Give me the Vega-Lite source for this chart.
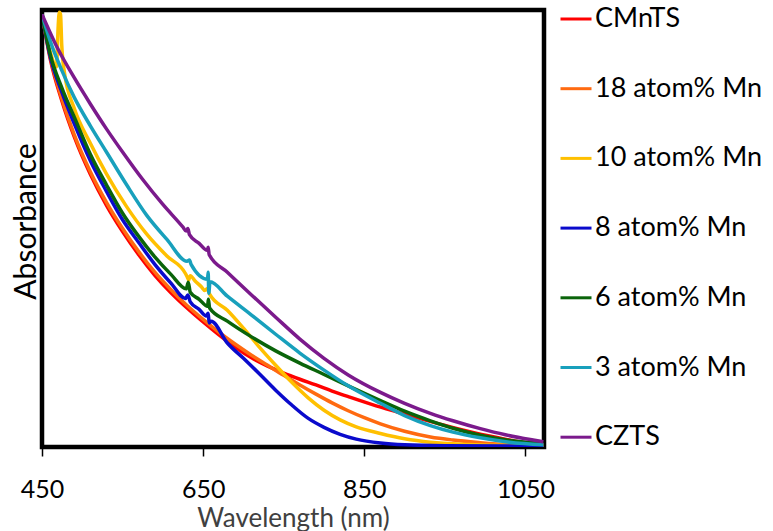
{
  "$schema": "https://vega.github.io/schema/vega-lite/v6.json",
  "width": 502,
  "height": 437,
  "autosize": {"type": "none"},
  "padding": {"left": 42, "top": 10, "right": 229, "bottom": 84},
  "background": "white",
  "config": {
    "view": {"stroke": "black", "strokeWidth": 4.5},
    "font": "Lato"
  },
  "data": {
    "values": [
      {"s":"CMnTS","w":450,"a":0.99},{"s":"CMnTS","w":460,"a":0.89},{"s":"CMnTS","w":475,"a":0.79},{"s":"CMnTS","w":490,"a":0.71},{"s":"CMnTS","w":510,"a":0.624},{"s":"CMnTS","w":530,"a":0.553},{"s":"CMnTS","w":550,"a":0.493},{"s":"CMnTS","w":570,"a":0.44},{"s":"CMnTS","w":590,"a":0.393},{"s":"CMnTS","w":610,"a":0.353},{"s":"CMnTS","w":630,"a":0.318},{"s":"CMnTS","w":650,"a":0.286},{"s":"CMnTS","w":670,"a":0.256},{"s":"CMnTS","w":690,"a":0.228},{"s":"CMnTS","w":710,"a":0.204},{"s":"CMnTS","w":730,"a":0.185},{"s":"CMnTS","w":750,"a":0.169},{"s":"CMnTS","w":770,"a":0.155},{"s":"CMnTS","w":790,"a":0.142},{"s":"CMnTS","w":810,"a":0.128},{"s":"CMnTS","w":832,"a":0.114},{"s":"CMnTS","w":860,"a":0.097},{"s":"CMnTS","w":891,"a":0.08},{"s":"CMnTS","w":925,"a":0.062},{"s":"CMnTS","w":957,"a":0.046},{"s":"CMnTS","w":990,"a":0.031},{"s":"CMnTS","w":1019,"a":0.02},{"s":"CMnTS","w":1045,"a":0.011},{"s":"CMnTS","w":1072.3,"a":0.005},

      {"s":"18 atom% Mn","w":450,"a":0.99},{"s":"18 atom% Mn","w":460,"a":0.895},{"s":"18 atom% Mn","w":475,"a":0.795},{"s":"18 atom% Mn","w":490,"a":0.715},{"s":"18 atom% Mn","w":510,"a":0.63},{"s":"18 atom% Mn","w":530,"a":0.56},{"s":"18 atom% Mn","w":550,"a":0.5},{"s":"18 atom% Mn","w":570,"a":0.447},{"s":"18 atom% Mn","w":590,"a":0.4},{"s":"18 atom% Mn","w":610,"a":0.36},{"s":"18 atom% Mn","w":630,"a":0.324},{"s":"18 atom% Mn","w":650,"a":0.292},{"s":"18 atom% Mn","w":670,"a":0.262},{"s":"18 atom% Mn","w":690,"a":0.235},{"s":"18 atom% Mn","w":710,"a":0.21},{"s":"18 atom% Mn","w":730,"a":0.187},{"s":"18 atom% Mn","w":750,"a":0.164},{"s":"18 atom% Mn","w":770,"a":0.142},{"s":"18 atom% Mn","w":790,"a":0.121},{"s":"18 atom% Mn","w":810,"a":0.101},{"s":"18 atom% Mn","w":830,"a":0.083},{"s":"18 atom% Mn","w":850,"a":0.067},{"s":"18 atom% Mn","w":870,"a":0.053},{"s":"18 atom% Mn","w":900,"a":0.036},{"s":"18 atom% Mn","w":932,"a":0.023},{"s":"18 atom% Mn","w":960,"a":0.016},{"s":"18 atom% Mn","w":994,"a":0.01},{"s":"18 atom% Mn","w":1030,"a":0.005},{"s":"18 atom% Mn","w":1072.3,"a":0.002},

      {"s":"10 atom% Mn","w":450,"a":0.99},{"s":"10 atom% Mn","w":460,"a":0.905},{"s":"10 atom% Mn","w":468,"a":0.87},{"s":"10 atom% Mn","w":470,"a":0.96},{"s":"10 atom% Mn","w":471.5,"a":0.995},{"s":"10 atom% Mn","w":473,"a":0.99},{"s":"10 atom% Mn","w":474.5,"a":0.92},{"s":"10 atom% Mn","w":478,"a":0.855},{"s":"10 atom% Mn","w":490,"a":0.775},{"s":"10 atom% Mn","w":510,"a":0.695},{"s":"10 atom% Mn","w":530,"a":0.625},{"s":"10 atom% Mn","w":555,"a":0.55},{"s":"10 atom% Mn","w":580,"a":0.487},{"s":"10 atom% Mn","w":605,"a":0.437},{"s":"10 atom% Mn","w":628,"a":0.397},{"s":"10 atom% Mn","w":630,"a":0.39},{"s":"10 atom% Mn","w":632,"a":0.382},{"s":"10 atom% Mn","w":634,"a":0.392},{"s":"10 atom% Mn","w":640,"a":0.38},{"s":"10 atom% Mn","w":648,"a":0.366},{"s":"10 atom% Mn","w":652,"a":0.358},{"s":"10 atom% Mn","w":655,"a":0.362},{"s":"10 atom% Mn","w":658,"a":0.35},{"s":"10 atom% Mn","w":680,"a":0.313},{"s":"10 atom% Mn","w":700,"a":0.272},{"s":"10 atom% Mn","w":720,"a":0.228},{"s":"10 atom% Mn","w":740,"a":0.187},{"s":"10 atom% Mn","w":760,"a":0.148},{"s":"10 atom% Mn","w":780,"a":0.113},{"s":"10 atom% Mn","w":800,"a":0.084},{"s":"10 atom% Mn","w":820,"a":0.062},{"s":"10 atom% Mn","w":840,"a":0.046},{"s":"10 atom% Mn","w":870,"a":0.031},{"s":"10 atom% Mn","w":900,"a":0.019},{"s":"10 atom% Mn","w":932,"a":0.011},{"s":"10 atom% Mn","w":980,"a":0.006},{"s":"10 atom% Mn","w":1020,"a":0.004},{"s":"10 atom% Mn","w":1072.3,"a":0.003},

      {"s":"8 atom% Mn","w":450,"a":0.99},{"s":"8 atom% Mn","w":460,"a":0.895},{"s":"8 atom% Mn","w":475,"a":0.81},{"s":"8 atom% Mn","w":490,"a":0.74},{"s":"8 atom% Mn","w":510,"a":0.655},{"s":"8 atom% Mn","w":530,"a":0.585},{"s":"8 atom% Mn","w":550,"a":0.52},{"s":"8 atom% Mn","w":570,"a":0.468},{"s":"8 atom% Mn","w":590,"a":0.418},{"s":"8 atom% Mn","w":610,"a":0.375},{"s":"8 atom% Mn","w":628,"a":0.34},{"s":"8 atom% Mn","w":631,"a":0.348},{"s":"8 atom% Mn","w":634,"a":0.332},{"s":"8 atom% Mn","w":645,"a":0.315},{"s":"8 atom% Mn","w":654,"a":0.3},{"s":"8 atom% Mn","w":656.2,"a":0.306},{"s":"8 atom% Mn","w":657.5,"a":0.284},{"s":"8 atom% Mn","w":660,"a":0.288},{"s":"8 atom% Mn","w":680,"a":0.238},{"s":"8 atom% Mn","w":700,"a":0.203},{"s":"8 atom% Mn","w":720,"a":0.167},{"s":"8 atom% Mn","w":740,"a":0.13},{"s":"8 atom% Mn","w":760,"a":0.096},{"s":"8 atom% Mn","w":780,"a":0.066},{"s":"8 atom% Mn","w":800,"a":0.045},{"s":"8 atom% Mn","w":820,"a":0.029},{"s":"8 atom% Mn","w":840,"a":0.018},{"s":"8 atom% Mn","w":870,"a":0.009},{"s":"8 atom% Mn","w":900,"a":0.005},{"s":"8 atom% Mn","w":950,"a":0.003},{"s":"8 atom% Mn","w":1072.3,"a":0.002},

      {"s":"6 atom% Mn","w":450,"a":0.99},{"s":"6 atom% Mn","w":460,"a":0.9},{"s":"6 atom% Mn","w":475,"a":0.82},{"s":"6 atom% Mn","w":490,"a":0.755},{"s":"6 atom% Mn","w":510,"a":0.67},{"s":"6 atom% Mn","w":530,"a":0.6},{"s":"6 atom% Mn","w":550,"a":0.535},{"s":"6 atom% Mn","w":570,"a":0.482},{"s":"6 atom% Mn","w":590,"a":0.435},{"s":"6 atom% Mn","w":610,"a":0.395},{"s":"6 atom% Mn","w":629,"a":0.362},{"s":"6 atom% Mn","w":631.5,"a":0.377},{"s":"6 atom% Mn","w":634,"a":0.354},{"s":"6 atom% Mn","w":645,"a":0.338},{"s":"6 atom% Mn","w":655.5,"a":0.322},{"s":"6 atom% Mn","w":656.5,"a":0.338},{"s":"6 atom% Mn","w":658,"a":0.318},{"s":"6 atom% Mn","w":680,"a":0.288},{"s":"6 atom% Mn","w":710,"a":0.252},{"s":"6 atom% Mn","w":740,"a":0.22},{"s":"6 atom% Mn","w":770,"a":0.192},{"s":"6 atom% Mn","w":800,"a":0.166},{"s":"6 atom% Mn","w":832,"a":0.138},{"s":"6 atom% Mn","w":870,"a":0.106},{"s":"6 atom% Mn","w":900,"a":0.082},{"s":"6 atom% Mn","w":932,"a":0.06},{"s":"6 atom% Mn","w":960,"a":0.043},{"s":"6 atom% Mn","w":994,"a":0.027},{"s":"6 atom% Mn","w":1030,"a":0.015},{"s":"6 atom% Mn","w":1072.3,"a":0.008},

      {"s":"3 atom% Mn","w":450,"a":0.99},{"s":"3 atom% Mn","w":460,"a":0.93},{"s":"3 atom% Mn","w":475,"a":0.86},{"s":"3 atom% Mn","w":490,"a":0.8},{"s":"3 atom% Mn","w":510,"a":0.735},{"s":"3 atom% Mn","w":530,"a":0.675},{"s":"3 atom% Mn","w":555,"a":0.6},{"s":"3 atom% Mn","w":580,"a":0.53},{"s":"3 atom% Mn","w":605,"a":0.475},{"s":"3 atom% Mn","w":630,"a":0.425},{"s":"3 atom% Mn","w":633,"a":0.428},{"s":"3 atom% Mn","w":635,"a":0.418},{"s":"3 atom% Mn","w":655.5,"a":0.384},{"s":"3 atom% Mn","w":656.2,"a":0.4},{"s":"3 atom% Mn","w":657,"a":0.352},{"s":"3 atom% Mn","w":658.5,"a":0.378},{"s":"3 atom% Mn","w":680,"a":0.345},{"s":"3 atom% Mn","w":710,"a":0.302},{"s":"3 atom% Mn","w":740,"a":0.258},{"s":"3 atom% Mn","w":770,"a":0.215},{"s":"3 atom% Mn","w":800,"a":0.176},{"s":"3 atom% Mn","w":830,"a":0.14},{"s":"3 atom% Mn","w":870,"a":0.1},{"s":"3 atom% Mn","w":900,"a":0.072},{"s":"3 atom% Mn","w":932,"a":0.049},{"s":"3 atom% Mn","w":960,"a":0.034},{"s":"3 atom% Mn","w":994,"a":0.021},{"s":"3 atom% Mn","w":1030,"a":0.011},{"s":"3 atom% Mn","w":1072.3,"a":0.005},

      {"s":"CZTS","w":450,"a":0.99},{"s":"CZTS","w":470,"a":0.91},{"s":"CZTS","w":490,"a":0.845},{"s":"CZTS","w":510,"a":0.785},{"s":"CZTS","w":530,"a":0.728},{"s":"CZTS","w":550,"a":0.675},{"s":"CZTS","w":575,"a":0.612},{"s":"CZTS","w":600,"a":0.555},{"s":"CZTS","w":625,"a":0.503},{"s":"CZTS","w":629,"a":0.494},{"s":"CZTS","w":631,"a":0.5},{"s":"CZTS","w":633,"a":0.486},{"s":"CZTS","w":645,"a":0.466},{"s":"CZTS","w":655,"a":0.45},{"s":"CZTS","w":656.2,"a":0.457},{"s":"CZTS","w":657.5,"a":0.44},{"s":"CZTS","w":680,"a":0.4},{"s":"CZTS","w":710,"a":0.348},{"s":"CZTS","w":740,"a":0.297},{"s":"CZTS","w":770,"a":0.247},{"s":"CZTS","w":800,"a":0.203},{"s":"CZTS","w":830,"a":0.165},{"s":"CZTS","w":870,"a":0.125},{"s":"CZTS","w":900,"a":0.1},{"s":"CZTS","w":932,"a":0.077},{"s":"CZTS","w":960,"a":0.06},{"s":"CZTS","w":994,"a":0.042},{"s":"CZTS","w":1025,"a":0.028},{"s":"CZTS","w":1056,"a":0.017},{"s":"CZTS","w":1072.3,"a":0.012}
    ]
  },
  "mark": {"type": "line", "strokeWidth": 3.5, "clip": true, "strokeJoin": "round", "interpolate": "monotone"},
  "encoding": {
    "x": {
      "field": "w", "type": "quantitative",
      "scale": {"domain": [450, 1073], "nice": false, "zero": false},
      "axis": {
        "values": [450, 650, 850, 1050],
        "format": "d",
        "title": "Wavelength (nm)",
        "grid": false,
        "domain": false,
        "tickColor": "black", "tickSize": 9, "tickWidth": 1.5,
        "labelFont": "Lato", "labelFontSize": 25, "labelColor": "black",
        "labelBaseline": "alphabetic", "labelPadding": 41,
        "labelFlush": false,
        "titleFont": "Lato", "titleFontSize": 26, "titleFontWeight": "normal", "titleColor": "#404040",
        "titleBaseline": "alphabetic", "titleY": 79
      }
    },
    "y": {
      "field": "a", "type": "quantitative",
      "scale": {"domain": [0, 1], "nice": false},
      "axis": {
        "title": "Absorbance",
        "labels": false, "ticks": false, "grid": false, "domain": false,
        "titleFont": "Lato", "titleFontSize": 30, "titleFontWeight": "normal", "titleColor": "black",
        "titleBaseline": "alphabetic",
        "titleX": -7, "titleY": 211
      }
    },
    "color": {
      "field": "s", "type": "nominal",
      "scale": {
        "domain": ["CMnTS", "18 atom% Mn", "10 atom% Mn", "8 atom% Mn", "6 atom% Mn", "3 atom% Mn", "CZTS"],
        "range": ["#FF0000", "#FF6A10", "#FFC000", "#0A0ACC", "#0A640A", "#18A0BC", "#7B1A8C"]
      },
      "legend": {
        "title": null,
        "orient": "none", "legendX": 517, "legendY": -8,
        "padding": 0,
        "symbolType": "stroke", "symbolSize": 961, "symbolStrokeWidth": 3,
        "labelFont": "Lato", "labelFontSize": 27, "labelColor": "black",
        "labelOffset": 2, "rowPadding": 39.7, "labelLimit": 300
      }
    }
  }
}
